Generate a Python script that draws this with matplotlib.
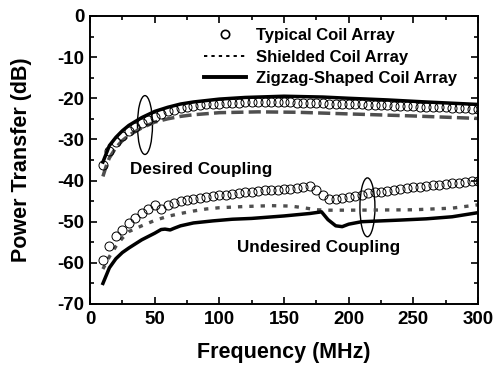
import matplotlib
matplotlib.use('Agg')
import matplotlib.pyplot as plt
from matplotlib.patches import Ellipse
from matplotlib.lines import Line2D

plt.rcParams['font.family'] = ['Liberation Sans', 'DejaVu Sans']
plt.rcParams['font.weight'] = 'bold'
plt.rcParams['axes.unicode_minus'] = False

# --- data ---
freq_typ = list(range(10, 305, 5))
typ_desired = [-36.2, -32.8, -30.6, -29.2, -28.0, -27.0, -26.1, -25.3, -24.5, -23.8,
               -23.2, -22.8, -22.4, -22.1, -21.9, -21.7, -21.5, -21.4, -21.3, -21.2,
               -21.1, -21.1, -21.0, -21.0, -21.0, -21.0, -21.0, -21.0, -21.0, -21.0,
               -21.1, -21.1, -21.1, -21.2, -21.2, -21.3, -21.3, -21.4, -21.4, -21.5,
               -21.5, -21.6, -21.6, -21.7, -21.7, -21.8, -21.8, -21.9, -21.9, -22.0,
               -22.0, -22.1, -22.1, -22.2, -22.3, -22.3, -22.4, -22.5, -22.6]
typ_undesired = [-59.3, -55.8, -53.5, -52.0, -50.2, -49.2, -47.9, -47.0, -45.9, -47.0,
                 -46.0, -45.4, -45.0, -44.7, -44.4, -44.2, -44.0, -43.8, -43.6, -43.4,
                 -43.2, -43.0, -42.8, -42.7, -42.6, -42.4, -42.3, -42.2, -42.1, -42.0,
                 -41.8, -41.5, -41.3, -42.2, -43.6, -44.5, -44.6, -44.3, -44.0, -43.7,
                 -43.4, -43.1, -42.9, -42.7, -42.5, -42.2, -42.0, -41.8, -41.6, -41.5,
                 -41.3, -41.1, -41.0, -40.8, -40.6, -40.5, -40.3, -40.1, -40.0]

shd_freq_d = [10, 13, 15, 20, 25, 30, 40, 50, 60, 70, 80, 100, 130, 160, 200, 250, 300]
shd_desired = [-39.0, -36.0, -34.5, -32.0, -30.3, -29.0, -27.2, -25.8, -25.0, -24.4,
               -24.0, -23.5, -23.3, -23.4, -23.8, -24.3, -24.9]
shd_freq_u = [10, 15, 20, 25, 30, 40, 50, 60, 70, 80, 90, 100, 120, 140, 155, 165,
              175, 185, 200, 250, 280, 300]
shd_undesired = [-61.5, -58.5, -56.0, -54.0, -52.4, -51.0, -49.7, -48.7, -48.0, -47.4,
                 -46.9, -46.6, -46.3, -46.1, -46.2, -46.6, -47.1, -47.2, -47.2, -47.1,
                 -46.7, -45.9]

zig_freq_d = [10, 15, 20, 25, 30, 40, 50, 60, 70, 80, 100, 120, 150, 180, 200, 230, 260, 300]
zig_desired = [-35.5, -31.5, -29.5, -27.9, -26.6, -24.7, -23.2, -22.2, -21.4, -20.9,
               -20.2, -19.8, -19.5, -19.7, -20.0, -20.4, -20.9, -21.5]
zig_freq_u = [10, 15, 20, 25, 30, 40, 50, 55, 58, 62, 65, 70, 80, 95, 110, 125, 150,
              170, 179, 184, 190, 195, 200, 210, 240, 260, 280, 300]
zig_undesired = [-65.0, -61.2, -59.0, -57.5, -56.4, -54.4, -52.8, -51.9, -51.8, -52.0,
                 -51.6, -51.0, -50.3, -49.8, -49.4, -49.2, -48.6, -48.0, -47.6, -49.5,
                 -51.0, -51.2, -50.6, -50.0, -49.6, -49.3, -48.8, -47.8]

labels = ['Typical Coil Array', 'Shielded Coil Array', 'Zigzag-Shaped Coil Array']
gray = '#4f4f4f'

fig = plt.figure(figsize=(4.95, 3.71), dpi=100)
ax = fig.add_axes([0.1818, 0.1806, 0.7839, 0.7763])

# shielded
ax.plot(shd_freq_d, shd_desired, color=gray, lw=2.5, dashes=(3.5, 1.5))
ax.plot(shd_freq_u, shd_undesired, color=gray, lw=2.4, dashes=(1.3, 2.1))
# zigzag
ax.plot(zig_freq_d, zig_desired, color='black', lw=2.5)
ax.plot(zig_freq_u, zig_undesired, color='black', lw=2.5)
# typical
ax.plot(freq_typ, typ_desired, ls='none', marker='o', ms=6.5, mfc='none',
        mec='black', mew=0.7)
ax.plot(freq_typ, typ_undesired, ls='none', marker='o', ms=6.5, mfc='none',
        mec='black', mew=0.7)

ax.add_patch(Ellipse((42.5, -26.5), 11.6, 14.3, fill=False, ec='black', lw=1.0))
ax.add_patch(Ellipse((214.5, -46.5), 11.6, 14.3, fill=False, ec='black', lw=1.0))

ax.text(31, -37.4, 'Desired Coupling', fontsize=12.3, fontweight='bold', va='center')
ax.text(113.5, -56.2, 'Undesired Coupling', fontsize=12.3, fontweight='bold', va='center')

ax.set_xlim(0, 300)
ax.set_ylim(-70, 0)
ax.set_xticks(range(0, 301, 50))
ax.set_xticks(range(25, 300, 50), minor=True)
ax.set_yticks(range(-70, 1, 10))
ax.set_yticks(range(-65, 0, 10), minor=True)
ax.tick_params(which='both', direction='in', top=True, right=True, width=1.2)
ax.tick_params(which='major', length=5, labelsize=13.5, pad=4)
ax.tick_params(which='minor', length=3)
ax.tick_params(axis='x', which='major', pad=5)
for lab in ax.get_xticklabels() + ax.get_yticklabels():
    lab.set_fontweight('bold')
for sp in ax.spines.values():
    sp.set_linewidth(1.4)

ax.set_xlabel('Frequency (MHz)', fontsize=15.5, fontweight='bold')
ax.set_ylabel('Power Transfer (dB)', fontsize=15.5, fontweight='bold')
ax.xaxis.set_label_coords(0.5, -0.132)
ax.yaxis.set_label_coords(-0.15, 0.5)

handles = [
    Line2D([], [], ls='none', marker='o', ms=6, mfc='none', mec='black', mew=1.2),
    Line2D([], [], color='black', lw=1.4, dashes=(1.7, 2.1)),
    Line2D([], [], color='black', lw=2.8),
]
ax.legend(handles, labels, loc='upper left', bbox_to_anchor=(0.395, 0.947),
          bbox_transform=fig.transFigure, frameon=False, borderpad=0,
          handlelength=2.55, handletextpad=0.6, labelspacing=0.4,
          prop={'size': 12, 'weight': 'bold'})

fig.savefig('out.png', dpi=100)
